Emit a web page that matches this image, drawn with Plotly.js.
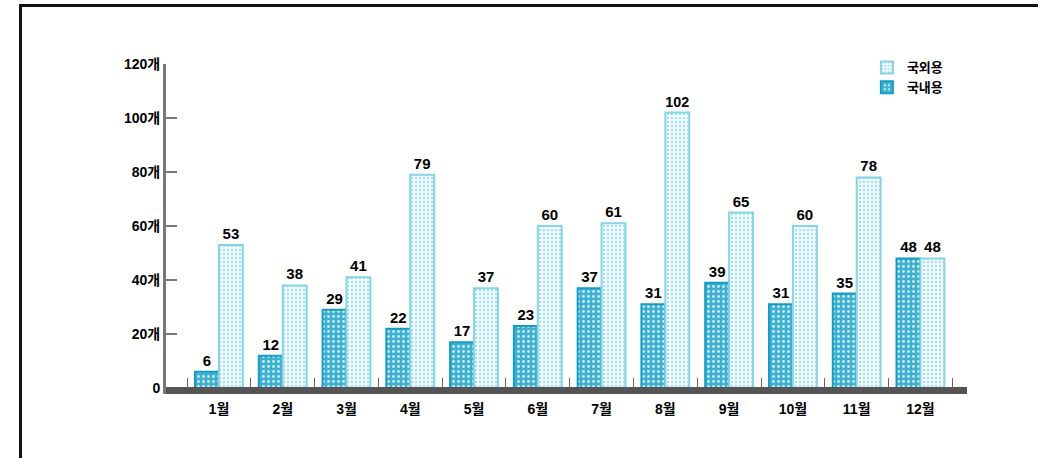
<!DOCTYPE html>
<html>
<head>
<meta charset="utf-8">
<script src="https://cdn.plot.ly/plotly-3.0.1.min.js"></script>
<style>
  html, body { margin: 0; padding: 0; background: #fff; }
  #wrap { position: relative; width: 1047px; height: 458px; overflow: hidden; }
  #chart { position: absolute; left: 0; top: 0; width: 1047px; height: 458px; }
  #frame { position: absolute; left: 19px; top: 4px; width: 1016px; height: 452px;
           border-left: 3px solid #111; border-top: 3px solid #111; border-bottom: 1px solid #bbb;
           pointer-events: none; }
</style>
</head>
<body>
<div id="wrap">
  <div id="chart"></div>
  <div id="frame"></div>
</div>
<script>
const months = ['1월','2월','3월','4월','5월','6월','7월','8월','9월','10월','11월','12월'];
const domestic = [6, 12, 29, 22, 17, 23, 37, 31, 39, 31, 35, 48];
const overseas = [53, 38, 41, 79, 37, 60, 61, 102, 65, 60, 78, 48];
const yTickVals = [0, 20, 40, 60, 80, 100, 120];
const yTickText = ['0', '20개', '40개', '60개', '80개', '100개', '120개'];
const seriesNames = ['국내용', '국외용'];

const FONT = 'Liberation Sans, Arial, Noto Sans CJK KR, sans-serif';

const traces = [
  {
    type: 'bar', name: seriesNames[0], x: months, y: domestic,
    text: domestic.map(String), textposition: 'outside', cliponaxis: false,
    textfont: {family: FONT, size: 15, color: '#000', weight: 'bold'},
    marker: {color: '#4fb8d6', line: {color: '#179bc2', width: 2},
             pattern: {shape: '.', fgcolor: '#c9edf6', bgcolor: '#3fb0d0', size: 5, solidity: 0.25}}
  },
  {
    type: 'bar', name: seriesNames[1], x: months, y: overseas,
    text: overseas.map(String), textposition: 'outside', cliponaxis: false,
    textfont: {family: FONT, size: 15, color: '#000', weight: 'bold'},
    marker: {color: '#d6f1f7', line: {color: '#86d4e6', width: 2},
             pattern: {shape: '.', fgcolor: '#a5e0ec', bgcolor: '#f2fbfd', size: 4, solidity: 0.3}}
  }
];

const layout = {
  width: 1047, height: 458,
  margin: {l: 166, r: 80, t: 64, b: 64},
  paper_bgcolor: '#fff', plot_bgcolor: '#fff',
  barmode: 'group', bargap: 0.25, bargroupgap: 0,
  showlegend: true,
  legend: {x: 0.875, y: 1.035, xanchor: 'left', yanchor: 'top', traceorder: 'reversed',
           font: {family: FONT, size: 13, color: '#000', weight: 'bold'},
           bgcolor: 'rgba(0,0,0,0)', itemwidth: 30, tracegroupgap: 2},
  xaxis: {
    type: 'category', range: [-0.83, 11.73],
    showgrid: false, zeroline: false, showline: false,
    ticks: 'inside', tickson: 'boundaries', ticklen: 16, tickcolor: '#666', tickwidth: 1,
    tickfont: {family: FONT, size: 14, color: '#000', weight: 'bold'},
    ticklabelstandoff: 5
  },
  yaxis: {
    range: [-2.2, 120], showgrid: false, zeroline: false,
    showline: true, linecolor: '#777', linewidth: 3,
    tickvals: yTickVals, ticktext: yTickText,
    ticks: 'inside', ticklen: 11, tickcolor: '#777', tickwidth: 2,
    tickfont: {family: FONT, size: 14, color: '#000', weight: 'bold'}
  },
  shapes: [
    {type: 'rect', xref: 'paper', yref: 'y', x0: 0, x1: 1, y0: -2.2, y1: 0.4,
     fillcolor: '#555', line: {width: 0}, layer: 'above'}
  ]
};

Plotly.newPlot('chart', traces, layout, {displayModeBar: false, staticPlot: true});
</script>
</body>
</html>
